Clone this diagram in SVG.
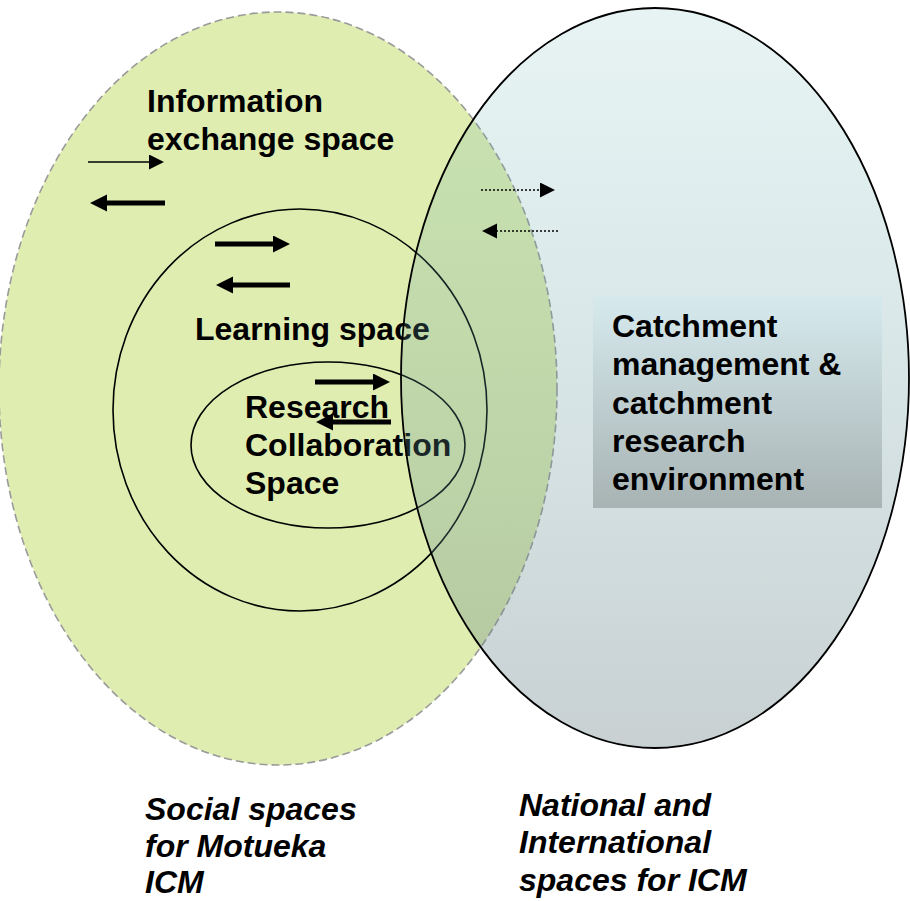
<svg xmlns="http://www.w3.org/2000/svg" width="910" height="901" viewBox="0 0 910 901">
<style>
  .lbl { font-family: "Liberation Sans", Arial, sans-serif; font-weight: bold; font-size: 32px; fill: #000; }
  .ital { font-style: italic; }
  .ring { fill: none; stroke: #000; stroke-width: 1.6; }
  .thick { stroke: #000; stroke-width: 5; fill: none; }
  .thin { stroke: #000; stroke-width: 1.5; fill: none; }
  .dot { stroke: #000; stroke-width: 1.6; stroke-dasharray: 2 2; fill: none; }
</style>
<defs>
  <linearGradient id="blueGrad" x1="0" y1="0" x2="0" y2="1">
    <stop offset="0" stop-color="#64b4b4" stop-opacity="0.15"/>
    <stop offset="1" stop-color="#62797e" stop-opacity="0.35"/>
  </linearGradient>
  <linearGradient id="boxGrad" x1="0" y1="0" x2="0" y2="1">
    <stop offset="0" stop-color="#d6eaee"/>
    <stop offset="1" stop-color="#a8b3b3"/>
  </linearGradient>
  <marker id="hThick" markerUnits="userSpaceOnUse" markerWidth="18" markerHeight="18" refX="0" refY="8.5" orient="auto">
    <path d="M0,0 L17,8.5 L0,17 z" fill="#000"/>
  </marker>
  <marker id="hThin" markerUnits="userSpaceOnUse" markerWidth="16" markerHeight="16" refX="0" refY="7.5" orient="auto">
    <path d="M0,0 L15,7.5 L0,15 z" fill="#000"/>
  </marker>
</defs>
<rect width="910" height="901" fill="#fff"/>

<g id="social-spaces">
  <ellipse cx="278" cy="388.5" rx="279" ry="376.5" fill="#dfedb0" stroke="#9a9a9a" stroke-width="1.6" stroke-dasharray="8 4"/>
  <text class="lbl" x="147" y="112">Information</text>
  <text class="lbl" x="147" y="150">exchange space</text>
</g>

<g id="learning-space">
  <ellipse class="ring" cx="300" cy="410" rx="187" ry="201"/>
  <text class="lbl" x="195" y="340">Learning space</text>
</g>

<g id="research-collaboration-space">
  <ellipse class="ring" cx="328" cy="445" rx="137" ry="83"/>
  <text class="lbl" x="245" y="418">Research</text>
  <text class="lbl" x="245" y="456">Collaboration</text>
  <text class="lbl" x="245" y="494">Space</text>
</g>

<g id="national-spaces">
  <ellipse cx="655" cy="378" rx="254" ry="370" fill="url(#blueGrad)" stroke="#000" stroke-width="1.8"/>
</g>

<g id="catchment-environment">
  <rect x="593" y="296" width="289" height="212" fill="url(#boxGrad)"/>
  <text class="lbl" x="612" y="337">Catchment</text>
  <text class="lbl" x="612" y="375">management &amp;</text>
  <text class="lbl" x="612" y="414">catchment</text>
  <text class="lbl" x="612" y="452">research</text>
  <text class="lbl" x="612" y="490">environment</text>
</g>

<g id="captions">
  <text class="lbl ital" x="145" y="820">Social spaces</text>
  <text class="lbl ital" x="145" y="857">for Motueka</text>
  <text class="lbl ital" x="145" y="893">ICM</text>
  <text class="lbl ital" x="519" y="816">National and</text>
  <text class="lbl ital" x="519" y="853">International</text>
  <text class="lbl ital" x="519" y="891">spaces for ICM</text>
</g>

<g id="connectors">
  <line class="thin" x1="88" y1="162" x2="149" y2="162" marker-end="url(#hThin)"/>
  <line class="thick" x1="165" y1="203" x2="107" y2="203" marker-end="url(#hThick)"/>
  <line class="thick" x1="215" y1="244" x2="273" y2="244" marker-end="url(#hThick)"/>
  <line class="thick" x1="290" y1="285" x2="233" y2="285" marker-end="url(#hThick)"/>
  <line class="thick" x1="315" y1="382" x2="373" y2="382" marker-end="url(#hThick)"/>
  <line class="thick" x1="391" y1="422" x2="333" y2="422" marker-end="url(#hThick)"/>
  <line class="dot" x1="481" y1="190" x2="540" y2="190" marker-end="url(#hThin)"/>
  <line class="dot" x1="558" y1="231" x2="497" y2="231" marker-end="url(#hThin)"/>
</g>
</svg>
